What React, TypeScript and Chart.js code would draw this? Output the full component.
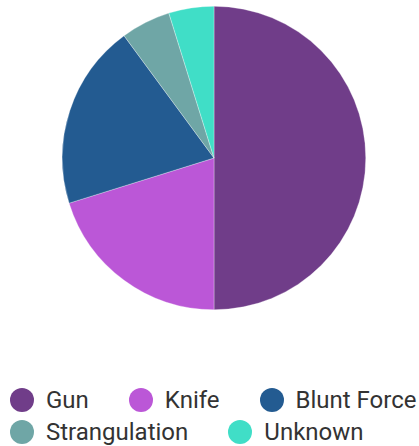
import React, { useEffect, useRef } from "react";
import { Chart, registerables } from "chart.js";

Chart.register(...registerables);

const categories = ["Gun", "Knife", "Blunt Force", "Strangulation", "Unknown"];
const counts = [104, 42, 41, 11, 10];
const colors = ["#703d89", "#bb57d7", "#235b91", "#6fa6a6", "#40dec7"];

export default function App() {
  const ref = useRef<HTMLCanvasElement | null>(null);

  useEffect(() => {
    if (!ref.current) return;
    const chart = new Chart(ref.current, {
      type: "pie",
      data: {
        labels: categories,
        datasets: [
          {
            data: counts,
            backgroundColor: colors,
            borderColor: "rgba(255,255,255,0.6)",
            borderWidth: 0.5,
          },
        ],
      },
      options: {
        animation: false,
        responsive: true,
        maintainAspectRatio: false,
        layout: { padding: { left: 9, top: 6, right: 0, bottom: 10 } },
        plugins: {
          legend: { display: false },
          tooltip: { enabled: false },
        },
      },
    });
    return () => chart.destroy();
  }, []);

  return (
    <div
      style={{
        position: "absolute",
        left: 0,
        top: 0,
        width: 419,
        height: 446,
        overflow: "hidden",
        background: "#fff",
      }}
    >
      <div style={{ position: "relative", width: 419, height: 320 }}>
        <canvas ref={ref} />
      </div>
      <div
        style={{
          position: "absolute",
          left: 10,
          top: 384,
          width: 412,
          display: "flex",
          flexWrap: "wrap",
          columnGap: 40,
          fontFamily: "Roboto, sans-serif",
          fontSize: 24,
          lineHeight: "32px",
          color: "#333",
        }}
      >
        {categories.map((c, i) => (
          <div key={c} style={{ display: "flex", alignItems: "center", height: 32, whiteSpace: "nowrap" }}>
            <span
              style={{
                display: "inline-block",
                width: 24,
                height: 24,
                borderRadius: "50%",
                background: colors[i],
                marginRight: 12,
              }}
            />
            <span>{c}</span>
          </div>
        ))}
      </div>
    </div>
  );
}
